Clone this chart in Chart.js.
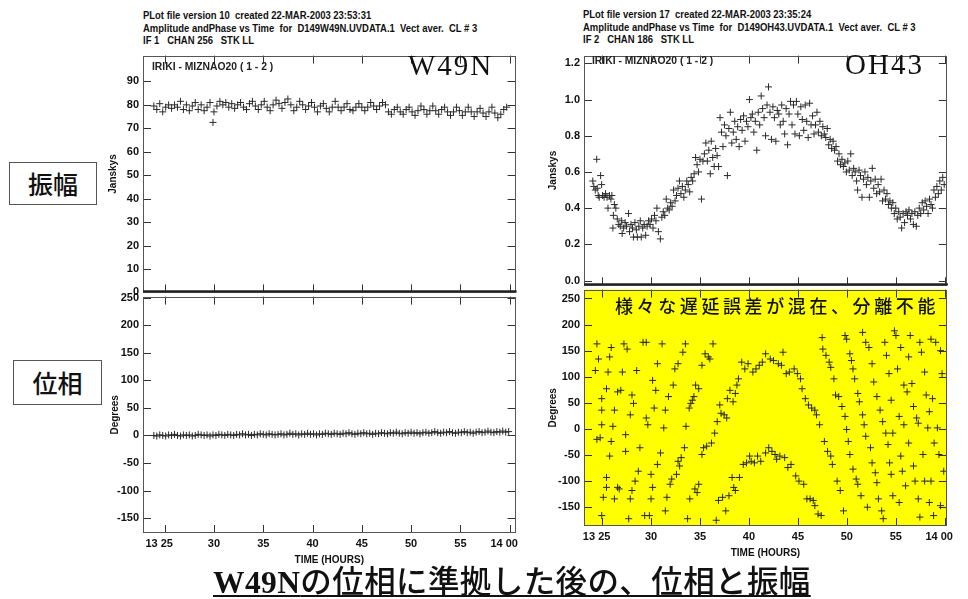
<!DOCTYPE html>
<html>
<head>
<meta charset="utf-8">
<script src="https://cdn.jsdelivr.net/npm/chart.js@4.4.0/dist/chart.umd.min.js"></script>
<style>
  body { margin: 0; width: 968px; height: 599px; background: #fff; position: relative; overflow: hidden; }
  canvas { position: absolute; }
  .hdr { position: absolute; font: bold 11px 'Liberation Sans', sans-serif; line-height: 12.5px; color: #111; white-space: pre; transform: scaleX(0.86); transform-origin: 0 0; }
  .base { position: absolute; font: bold 11px 'Liberation Sans', sans-serif; color: #222; white-space: pre; transform: scaleX(0.94); transform-origin: 0 0; }
  .src { position: absolute; font: 29px 'Liberation Serif', 'DejaVu Serif', serif; color: #111; letter-spacing: 2px; }
  .jbox { position: absolute; border: 1px solid #555; font: 500 25px 'Noto Sans CJK JP', sans-serif; color: #111; text-align: center; box-sizing: border-box; }
  .note { position: absolute; font: 500 18px 'Noto Sans CJK JP', sans-serif; letter-spacing: 3.6px; color: #111; white-space: pre; }
  .cap { position: absolute; left: 213px; top: 556px; font: 500 31.5px 'Noto Sans CJK JP', sans-serif; letter-spacing: 0.4px; color: #111; white-space: pre; text-decoration: underline; text-decoration-thickness: 2px; text-underline-offset: 2px; }
  .cap b { font-family: 'Liberation Serif', serif; font-weight: bold; }
</style>
</head>
<body>
<div class="hdr" style="left:143px;top:9px">PLot file version 10  created 22-MAR-2003 23:53:31
Amplitude andPhase vs Time  for  D149W49N.UVDATA.1  Vect aver.  CL # 3
IF 1   CHAN 256   STK LL</div>
<div class="hdr" style="left:583px;top:8px">PLot file version 17  created 22-MAR-2003 23:35:24
Amplitude andPhase vs Time  for  D149OH43.UVDATA.1  Vect aver.  CL # 3
IF 2   CHAN 186   STK LL</div>

<div class="jbox" style="left:9px;top:162px;width:88px;height:43px;line-height:41px">振幅</div>
<div class="jbox" style="left:13px;top:360px;width:89px;height:45px;line-height:43px">位相</div>

<script>
// --- 軸の目盛り ---
const X_TICKS = [25, 30, 35, 40, 45, 50, 55, 60];
const X_LABELS = ['13 25', '30', '35', '40', '45', '50', '55', '14 00'];
const W49N_AMP_TICKS = [0, 10, 20, 30, 40, 50, 60, 70, 80, 90];
const OH43_AMP_TICKS = [0, 0.2, 0.4, 0.6, 0.8, 1.0, 1.2];
const PHASE_TICKS = [-150, -100, -50, 0, 50, 100, 150, 200, 250];

// --- データ [分 (13時からの経過), 値] ---
const W49N_AMP = [
  [23.9,79.5],[24.2,78],[24.5,80.5],[24.8,77],[25.1,79],[25.4,80],[25.7,78.5],[26.0,80],[26.3,79],[26.6,81.5],
  [26.9,78],[27.2,80],[27.5,77.5],[27.8,79.5],[28.1,81],[28.4,78],[28.7,80],[29.0,77.5],[29.3,79],[29.6,81],
  [29.9,72.5],[30.0,77],[30.3,79.5],[30.6,81.5],[30.9,80],[31.2,81],[31.5,79],[31.8,80.5],[32.1,78.5],[32.4,80],
  [32.7,81],[33.0,79],[33.3,78],[33.6,80.5],[33.9,81.5],[34.2,79.5],[34.5,78],[34.8,80],[35.1,81.5],[35.4,79],
  [35.7,77.5],[36.0,80],[36.3,82],[36.6,80.5],[36.9,78.5],[37.2,81],[37.5,82.5],[37.8,80],[38.1,77.5],[38.4,79],
  [38.7,81.5],[39.0,80],[39.3,78],[39.6,79.5],[39.9,81],[40.2,79],[40.5,77],[40.8,79.5],[41.1,80.5],[41.4,78.5],
  [41.7,77],[42.0,79],[42.3,81.5],[42.6,79],[42.9,77.5],[43.2,79],[43.5,80.5],[43.8,78],[44.1,77.5],[44.4,79],
  [44.7,80.5],[45.0,79],[45.3,77.5],[45.6,79],[45.9,81],[46.2,79.5],[46.5,78],[46.8,79.5],[47.1,81],[47.4,80],
  [47.7,77],[48.0,76],[48.3,78],[48.6,79],[48.9,77],[49.2,76],[49.5,78],[49.8,79],[50.1,77],[50.4,75.5],
  [50.7,77.5],[51.0,79.5],[51.3,78],[51.6,76],[51.9,77.5],[52.2,79.5],[52.5,77.5],[52.8,76],[53.1,78],[53.4,79],
  [53.7,77],[54.0,75.5],[54.3,77],[54.6,79],[54.9,77.5],[55.2,75.5],[55.5,77],[55.8,79],[56.1,77],[56.4,75],
  [56.7,77],[57.0,78.5],[57.3,76.5],[57.6,75],[57.9,77],[58.2,79],[58.5,76.5],[58.8,74.5],[59.1,76],[59.4,78],[59.7,79]
];
const W49N_PHASE = [
  [23.9,0],[24.2,-1],[24.5,1],[24.8,0],[25.1,-1],[25.4,1],[25.7,0],[26.0,2],[26.3,0],[26.6,-1],
  [26.9,1],[27.2,0],[27.5,1],[27.8,-1],[28.1,0],[28.4,2],[28.7,1],[29.0,0],[29.3,1],[29.6,-1],
  [29.9,1],[30.2,0],[30.5,2],[30.8,1],[31.1,0],[31.4,2],[31.7,1],[32.0,0],[32.3,2],[32.6,1],
  [32.9,3],[33.2,1],[33.5,2],[33.8,0],[34.1,2],[34.4,1],[34.7,3],[35.0,2],[35.3,1],[35.6,3],
  [35.9,2],[36.2,1],[36.5,2],[36.8,3],[37.1,1],[37.4,2],[37.7,4],[38.0,2],[38.3,3],[38.6,1],
  [38.9,3],[39.2,2],[39.5,4],[39.8,2],[40.1,3],[40.4,1],[40.7,3],[41.0,2],[41.3,4],[41.6,3],
  [41.9,2],[42.2,4],[42.5,3],[42.8,2],[43.1,4],[43.4,3],[43.7,5],[44.0,3],[44.3,2],[44.6,4],
  [44.9,3],[45.2,5],[45.5,3],[45.8,4],[46.1,2],[46.4,4],[46.7,3],[47.0,5],[47.3,4],[47.6,3],
  [47.9,5],[48.2,4],[48.5,6],[48.8,4],[49.1,3],[49.4,5],[49.7,4],[50.0,6],[50.3,4],[50.6,5],
  [50.9,3],[51.2,5],[51.5,6],[51.8,4],[52.1,5],[52.4,7],[52.7,5],[53.0,4],[53.3,6],[53.6,5],
  [53.9,7],[54.2,5],[54.5,4],[54.8,6],[55.1,5],[55.4,7],[55.7,5],[56.0,6],[56.3,4],[56.6,6],
  [56.9,7],[57.2,5],[57.5,6],[57.8,8],[58.1,6],[58.4,5],[58.7,7],[59.0,6],[59.3,8],[59.6,6],[59.9,7]
];
const OH43_AMP = [
  [24.05,0.55],[24.15,0.52],[24.3,0.50],[24.45,0.67],[24.5,0.51],[24.6,0.47],[24.7,0.46],[24.85,0.58],[24.95,0.53],[25.05,0.47],
  [25.2,0.46],[25.35,0.48],[25.5,0.46],[25.6,0.40],[25.75,0.47],[25.9,0.45],[26.0,0.47],[26.1,0.29],[26.15,0.36],[26.25,0.42],
  [26.4,0.40],[26.55,0.34],[26.7,0.31],[26.85,0.30],[27.0,0.33],[27.05,0.26],[27.2,0.29],[27.35,0.32],[27.5,0.30],[27.7,0.37],
  [27.8,0.27],[27.95,0.31],[28.1,0.29],[28.2,0.24],[28.35,0.32],[28.5,0.28],[28.6,0.24],[28.75,0.30],[28.9,0.33],[29.0,0.24],
  [29.15,0.29],[29.3,0.31],[29.45,0.25],[29.6,0.30],[29.75,0.33],[29.9,0.31],[30.05,0.34],[30.2,0.29],[30.35,0.36],[30.5,0.33],
  [30.6,0.40],[30.75,0.27],[30.95,0.23],[31.1,0.35],[31.25,0.38],[31.4,0.36],[31.55,0.45],[31.7,0.40],[31.85,0.39],[32.0,0.43],
  [32.15,0.41],[32.3,0.50],[32.45,0.44],[32.6,0.47],[32.75,0.51],[32.9,0.55],[33.05,0.48],[33.2,0.52],[33.35,0.46],[33.5,0.50],
  [33.65,0.55],[33.8,0.53],[33.95,0.49],[34.1,0.57],[34.25,0.55],[34.4,0.59],[34.55,0.68],[34.7,0.64],[34.85,0.60],[35.0,0.67],
  [35.15,0.45],[35.3,0.66],[35.45,0.70],[35.6,0.76],[35.75,0.66],[35.9,0.72],[36.05,0.59],[36.15,0.77],[36.3,0.68],[36.45,0.63],
  [36.6,0.73],[36.75,0.69],[36.9,0.63],[37.05,0.90],[37.2,0.82],[37.35,0.74],[37.5,0.86],[37.65,0.80],[37.8,0.58],[37.95,0.84],
  [38.1,0.93],[38.25,0.76],[38.4,0.82],[38.55,0.88],[38.7,0.78],[38.85,0.85],[39.0,0.74],[39.15,0.89],[39.3,0.83],[39.45,0.91],
  [39.6,0.77],[39.75,0.88],[39.9,0.85],[40.05,1.00],[40.2,0.90],[40.35,0.92],[40.5,0.82],[40.65,0.88],[40.8,0.72],[40.95,0.93],
  [41.1,0.86],[41.25,1.02],[41.4,0.95],[41.55,0.90],[41.7,0.80],[41.85,0.97],[42.0,1.07],[42.15,0.93],[42.3,0.78],[42.45,0.96],
  [42.6,0.90],[42.75,0.77],[42.9,0.94],[43.05,0.92],[43.2,0.86],[43.35,0.97],[43.5,0.88],[43.65,0.81],[43.8,0.95],[43.95,0.75],
  [44.1,0.92],[44.25,0.99],[44.4,0.86],[44.55,0.97],[44.7,0.81],[44.85,0.99],[45.0,0.92],[45.15,0.80],[45.3,0.96],[45.45,0.89],
  [45.6,0.83],[45.75,0.97],[45.9,0.88],[46.05,0.79],[46.2,0.98],[46.35,0.86],[46.5,0.91],[46.65,0.81],[46.8,0.86],[46.95,0.93],
  [47.1,0.82],[47.25,0.88],[47.4,0.80],[47.55,0.85],[47.7,0.81],[47.85,0.79],[48.0,0.84],[48.15,0.75],[48.3,0.78],[48.45,0.73],
  [48.6,0.77],[48.75,0.72],[48.9,0.74],[49.05,0.66],[49.2,0.70],[49.35,0.64],[49.5,0.67],[49.65,0.63],[49.8,0.65],[49.95,0.60],
  [50.1,0.66],[50.25,0.61],[50.4,0.70],[50.55,0.58],[50.7,0.62],[50.85,0.60],[51.0,0.55],[51.1,0.50],[51.25,0.61],[51.4,0.58],
  [51.55,0.46],[51.7,0.56],[51.85,0.60],[52.0,0.53],[52.15,0.57],[52.3,0.46],[52.45,0.55],[52.6,0.62],[52.75,0.51],[52.9,0.56],
  [53.05,0.48],[53.2,0.53],[53.35,0.49],[53.5,0.56],[53.65,0.44],[53.8,0.50],[53.95,0.45],[54.1,0.48],[54.25,0.42],[54.4,0.44],
  [54.55,0.40],[54.7,0.43],[54.85,0.37],[55.0,0.40],[55.15,0.34],[55.3,0.38],[55.45,0.35],[55.6,0.29],[55.75,0.37],[55.9,0.32],
  [56.05,0.38],[56.2,0.36],[56.35,0.39],[56.5,0.34],[56.65,0.37],[56.8,0.31],[56.95,0.38],[57.1,0.30],[57.25,0.36],[57.4,0.40],
  [57.55,0.37],[57.7,0.43],[57.85,0.39],[58.0,0.44],[58.15,0.41],[58.3,0.37],[58.45,0.45],[58.6,0.42],[58.75,0.40],[58.9,0.50],
  [59.05,0.46],[59.2,0.52],[59.35,0.48],[59.5,0.55],[59.65,0.50],[59.8,0.57],[59.95,0.53]
];
const OH43_PHASE = [
  [24.31,112],[24.47,163],[24.47,-20],[24.63,134],[24.8,-17],[24.96,8],[24.96,58],[24.96,36],[24.96,-166],[25.12,-131],
  [25.45,-112],[25.45,-93],[25.45,77],[25.61,109],[25.77,138],[25.77,-52],[25.93,156],[25.93,-24],[26.1,5],[26.26,36],
  [26.26,-134],[26.58,-112],[26.58,71],[26.75,-115],[26.91,74],[27.07,109],[27.23,163],[27.4,-11],[27.4,-43],[27.56,153],
  [27.72,-172],[27.88,-134],[27.88,27],[28.05,-118],[28.05,65],[28.21,49],[28.37,-100],[28.53,112],[28.7,-81],[28.86,-36],
  [29.18,166],[29.35,-166],[29.51,166],[29.51,21],[29.67,8],[29.83,-166],[30.0,-134],[30.0,-87],[30.16,93],[30.16,-112],
  [30.32,40],[30.48,74],[30.65,125],[30.65,-68],[30.97,-46],[31.13,163],[31.3,2],[31.46,-157],[31.46,36],[31.62,-131],
  [31.78,62],[31.95,-106],[32.11,-96],[32.27,84],[32.43,115],[32.6,-87],[32.76,125],[32.76,-62],[32.92,-71],[33.08,-55],
  [33.25,147],[33.41,-36],[33.51,163],[33.57,5],[33.73,-172],[33.9,40],[33.96,-134],[34.06,49],[34.22,55],[34.38,62],
  [34.48,-115],[34.55,84],[34.71,-122],[34.87,77],[34.87,-106],[35.2,122],[35.2,-49],[35.36,-36],[35.52,144],[35.68,-33],
  [35.85,138],[36.01,134],[36.17,-27],[36.33,163],[36.5,-8],[36.66,-175],[36.76,14],[36.89,-137],[37.02,46],[37.15,30],
  [37.31,-131],[37.47,27],[37.63,-157],[37.73,21],[37.8,58],[37.96,-128],[38.06,74],[38.28,-93],[38.38,52],[38.45,-112],
  [38.61,-118],[38.61,68],[38.77,84],[38.93,96],[39.03,-93],[39.26,128],[39.42,-68],[39.58,115],[39.75,-65],[39.91,125],
  [40.07,-52],[40.23,-62],[40.4,109],[40.56,-65],[40.72,115],[40.88,-52],[41.05,122],[41.21,-62],[41.37,128],[41.7,-46],
  [41.7,144],[42.02,-36],[42.18,134],[42.35,-43],[42.51,131],[42.67,-49],[42.83,-58],[43.0,125],[43.16,-52],[43.32,122],
  [43.48,147],[43.65,-55],[43.81,106],[43.97,-74],[44.13,109],[44.3,-68],[44.62,115],[44.78,-90],[44.95,106],[45.11,-100],
  [45.27,96],[45.43,77],[45.6,-106],[45.76,58],[45.92,-134],[46.08,46],[46.25,-134],[46.41,40],[46.57,-137],[46.73,36],
  [46.73,-147],[46.9,27],[47.06,-163],[47.22,8],[47.38,-166],[47.48,175],[47.55,153],[47.71,-24],[47.87,141],[48.03,-43],
  [48.2,128],[48.36,118],[48.36,-52],[48.52,-68],[48.68,96],[48.85,65],[49.01,-100],[49.17,62],[49.33,-118],[49.5,43],
  [49.66,-157],[49.82,179],[49.82,24],[49.98,172],[49.98,-1],[50.15,-24],[50.31,144],[50.31,-49],[50.47,131],[50.63,115],
  [50.63,-77],[50.8,96],[50.96,-96],[51.12,68],[51.12,-106],[51.28,52],[51.45,-128],[51.61,185],[51.61,27],[51.77,8],
  [51.93,166],[51.93,-14],[52.1,-150],[52.26,156],[52.42,-36],[52.58,-65],[52.58,125],[52.75,90],[52.91,-84],[53.07,62],
  [53.07,-103],[53.23,-134],[53.4,36],[53.56,-157],[53.66,14],[53.72,-172],[53.88,166],[53.98,-8],[54.05,141],[54.21,-30],
  [54.31,106],[54.37,-65],[54.53,-87],[54.53,55],[54.7,-8],[54.7,-128],[54.86,188],[55.02,179],[55.18,115],[55.35,24],
  [55.35,-141],[55.51,156],[55.51,-52],[55.67,-81],[55.83,84],[55.83,8],[56.0,-109],[56.16,71],[56.32,138],[56.32,-27],
  [56.48,179],[56.65,87],[56.81,43],[56.81,-71],[56.97,-100],[57.13,21],[57.3,11],[57.3,-134],[57.46,166],[57.46,-169],
  [57.62,147],[57.78,-49],[57.95,109],[57.95,-100],[58.11,65],[58.27,2],[58.43,33],[58.43,-141],[58.6,172],[58.6,-100],
  [58.76,58],[58.86,-166],[58.92,-27],[59.08,166],[59.25,2],[59.41,-49],[59.57,150],[59.57,-147],[59.73,106],[59.9,-81]
];

const TICK_FONT = { family: "'Liberation Sans', sans-serif", size: 11, weight: 'bold' };

// 枠と内向きの目盛り線 (AIPS 風)
const framePlugin = {
  id: 'frame',
  beforeDatasetsDraw(chart, args, opts) {
    if (!opts.fill) return;
    const a = chart.chartArea;
    chart.ctx.fillStyle = opts.fill;
    chart.ctx.fillRect(a.left, a.top, a.width, a.height);
  },
  afterDraw(chart, args, opts) {
    const { ctx, chartArea: a, scales: { x, y } } = chart;
    const L = 8;
    ctx.save();
    ctx.strokeStyle = '#333';
    ctx.lineWidth = 1;
    ctx.beginPath();
    x.ticks.forEach(t => {
      const px = Math.round(x.getPixelForValue(t.value)) + 0.5;
      ctx.moveTo(px, a.bottom); ctx.lineTo(px, a.bottom - L);
      ctx.moveTo(px, a.top); ctx.lineTo(px, a.top + L);
    });
    y.ticks.forEach(t => {
      const py = Math.round(y.getPixelForValue(t.value)) + 0.5;
      ctx.moveTo(a.left, py); ctx.lineTo(a.left + L, py);
      ctx.moveTo(a.right, py); ctx.lineTo(a.right - L, py);
    });
    ctx.stroke();
    ctx.strokeStyle = '#555';
    ctx.strokeRect(Math.round(a.left) + 0.5, Math.round(a.top) + 0.5, Math.round(a.width) - 1, Math.round(a.height) - 1);
    if (opts.thickBottom) {
      ctx.strokeStyle = '#222';
      ctx.lineWidth = 2.2;
      ctx.beginPath();
      ctx.moveTo(a.left, a.bottom - 1); ctx.lineTo(a.right + 1, a.bottom - 1);
      ctx.stroke();
    }
    ctx.restore();
  }
};

function makePlot(p) {
  const yW = 45, padT = 8, padR = 5;
  const xH = p.showX ? 36 : 9;
  const cv = document.createElement('canvas');
  cv.width = p.right - p.left + yW + padR;
  cv.height = p.bottom - p.top + padT + xH;
  cv.style.left = (p.left - yW) + 'px';
  cv.style.top = (p.top - padT) + 'px';
  document.body.appendChild(cv);

  return new Chart(cv, {
    type: 'scatter',
    data: {
      datasets: [{
        data: p.data.map(d => ({ x: d[0], y: d[1] })),
        pointStyle: 'cross',
        pointRadius: p.r,
        borderColor: '#2a2a2a',
        borderWidth: 1
      }]
    },
    options: {
      responsive: false,
      animation: false,
      events: [],
      layout: { padding: { top: padT, right: padR, left: 0, bottom: p.showX ? 0 : xH } },
      plugins: {
        legend: { display: false },
        tooltip: { enabled: false },
        frame: { fill: p.fill, thickBottom: p.thickBottom }
      },
      scales: {
        x: {
          type: 'linear',
          min: p.xMin, max: p.xMax,
          afterBuildTicks: s => { s.ticks = X_TICKS.map(v => ({ value: v })); },
          afterFit: s => { s.height = p.showX ? xH : 0; },
          grid: { display: false, drawTicks: false },
          border: { display: false },
          ticks: {
            display: p.showX,
            padding: 4,
            maxRotation: 0,
            autoSkip: false,
            color: '#111',
            font: TICK_FONT,
            callback: (v, i) => X_LABELS[i] + (X_LABELS[i].length > 3 ? '\u2002\u2002' : '')
          },
          title: {
            display: p.showX,
            text: 'TIME (HOURS)',
            color: '#111',
            font: { family: TICK_FONT.family, size: 10, weight: 'bold' },
            padding: { top: 0, bottom: 3 }
          }
        },
        y: {
          type: 'linear',
          min: p.yMin, max: p.yMax,
          afterBuildTicks: s => { s.ticks = p.yTicks.map(v => ({ value: v })); },
          afterFit: s => { s.width = yW; },
          grid: { display: false, drawTicks: false },
          border: { display: false },
          ticks: {
            padding: 4,
            autoSkip: false,
            color: '#111',
            font: TICK_FONT,
            callback: v => p.yFmt ? p.yFmt(v) : String(v)
          },
          title: {
            display: true,
            text: p.yTitle,
            color: '#111',
            font: { family: TICK_FONT.family, size: 10, weight: 'bold' },
            padding: { top: p.titlePad, bottom: 0 }
          }
        }
      }
    },
    plugins: [framePlugin]
  });
}

// 左: W49N
makePlot({ left: 143, right: 528, top: 53, bottom: 294, xMin: 22.8, xMax: 60.6, yMin: 0, yMax: 101,
  yTicks: W49N_AMP_TICKS, yTitle: 'Janskys', titlePad: 9, data: W49N_AMP, r: 3.5, thickBottom: true });
makePlot({ left: 143, right: 528, top: 294, bottom: 533, xMin: 22.8, xMax: 60.6, yMin: -177, yMax: 252,
  yTicks: PHASE_TICKS, yTitle: 'Degrees', titlePad: 11, data: W49N_PHASE, r: 3.5, showX: true });
// 右: OH43
makePlot({ left: 584, right: 963, top: 53, bottom: 287, xMin: 23.15, xMax: 60.22, yMin: -0.027, yMax: 1.243,
  yTicks: OH43_AMP_TICKS, yTitle: 'Janskys', titlePad: 8, data: OH43_AMP, r: 3.5, thickBottom: true,
  yFmt: v => v.toFixed(1) });
makePlot({ left: 584, right: 963, top: 287, bottom: 526, xMin: 23.15, xMax: 60.22, yMin: -186, yMax: 267,
  yTicks: PHASE_TICKS, yTitle: 'Degrees', titlePad: 8, data: OH43_PHASE, r: 3.5, showX: true, fill: '#ffff00' });
</script>

<div class="base" style="left:152px;top:60px">IRIKI - MIZNAO20 ( 1 - 2 )</div>
<div class="base" style="left:592px;top:54px">IRIKI - MIZNAO20 ( 1 - 2 )</div>
<div class="src" style="left:408px;top:49px">W49N</div>
<div class="src" style="left:845px;top:48px">OH43</div>
<div class="note" style="left:615px;top:292px">様々な遅延誤差が混在、分離不能</div>
<div class="cap"><b>W49N</b>の位相に準拠した後の、位相と振幅</div>
</body>
</html>
